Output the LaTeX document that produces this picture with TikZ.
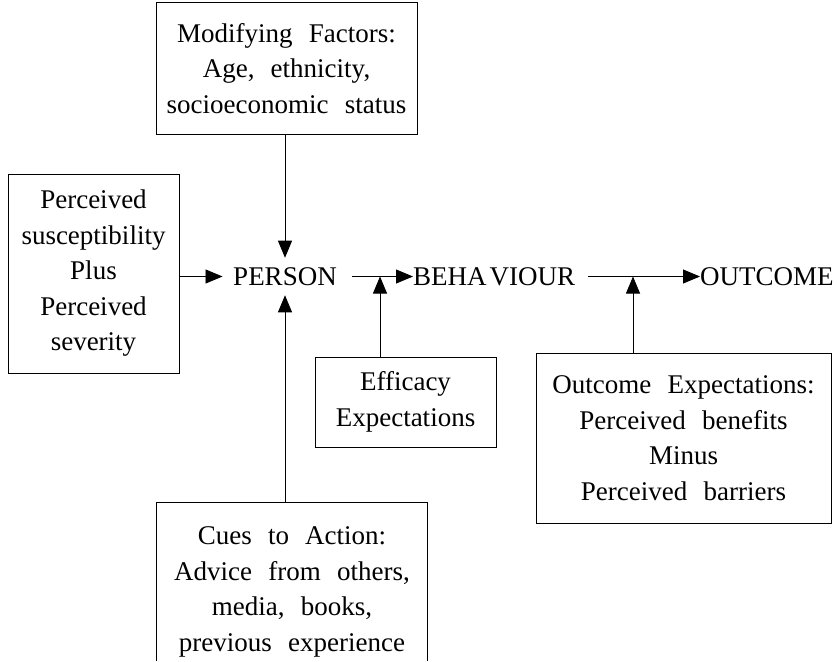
\documentclass[tikz,border=0pt]{standalone}
\usepackage{fontspec}
\setmainfont{Liberation Serif}[WordSpace={2.4}]
\usetikzlibrary{arrows.meta}
\begin{document}
\begin{tikzpicture}[x=1pt,y=-1pt,
  box/.style={draw, line width=0.8pt, align=center, inner sep=0pt},
  lbl/.style={inner sep=0pt},
  arr/.style={-{Triangle[length=17pt,width=14pt]}, line width=0.8pt},
  font=\fontsize{27}{35.5}\selectfont]
\useasboundingbox (0,0) rectangle (837,661);
% boxes
\node[box, minimum width=261pt, minimum height=132pt] (mod) at (286.5,68.5)
  {Modifying Factors:\\Age, ethnicity,\\socioeconomic status};
\node[box, minimum width=171pt, minimum height=199pt] (susc) at (93.5,273.5)
  {Perceived\\susceptibility\\Plus\\Perceived\\severity};
\node[box, minimum width=181pt, minimum height=90pt] (eff) at (405.5,402)
  {Efficacy\\Expectations};
\node[box, minimum width=295pt, minimum height=170pt] (oexp) at (683.5,438)
  {Outcome Expectations:\\Perceived benefits\\Minus\\Perceived barriers};
\node[align=center, inner sep=0pt, minimum width=270pt, minimum height=178pt] (cues) at (292,592)
  {Cues to Action:\\Advice from others,\\media, books,\\previous experience};
\draw[line width=0.8pt] (cues.north west) ++(0,158) -- (cues.north west) -- (cues.north east) -- ++(0,158);
% main nodes
\node[lbl] (person) at (285,276.5) {PERSON};
\node[lbl, anchor=west] (beh) at (413,276.5) {BEHA\kern3pt VIOUR};
\node[lbl, anchor=west] (out) at (700,276.5) {OUTCOME};
\coordinate (j1) at (380,276.5);
\coordinate (j2) at (633,276.5);
% connectors
\draw[arr, shorten >=10.5pt] (susc.east |- person) -- (person.west);
\draw[arr, shorten >=9.5pt] (person |- mod.south) -- (person.north);
\draw[arr, shorten >=9.5pt] (person |- cues.north) -- (person.south);
\draw[arr, shorten <=15pt] (person.east) -- (beh.west);
\draw[arr, shorten <=13pt] (beh.east) -- (out.west);
\draw[arr] (j1 |- eff.north) -- (j1);
\draw[arr] (j2 |- oexp.north) -- (j2);
\end{tikzpicture}
\end{document}
